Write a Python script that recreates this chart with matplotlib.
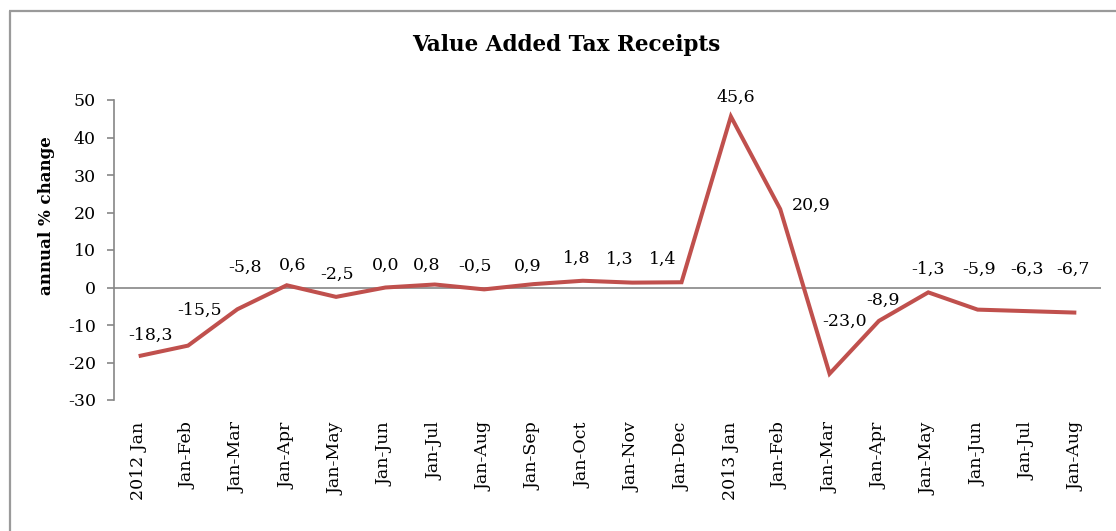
import matplotlib
matplotlib.use("Agg")
import matplotlib.pyplot as plt
from matplotlib.lines import Line2D

# Period labels (cumulative year-to-date)
periods = ["2012 Jan", "Jan-Feb", "Jan-Mar", "Jan-Apr", "Jan-May", "Jan-Jun",
           "Jan-Jul", "Jan-Aug", "Jan-Sep", "Jan-Oct", "Jan-Nov", "Jan-Dec",
           "2013 Jan", "Jan-Feb", "Jan-Mar", "Jan-Apr", "Jan-May", "Jan-Jun",
           "Jan-Jul", "Jan-Aug"]

# Annual % change of VAT receipts
vat_change = [-18.3, -15.5, -5.8, 0.6, -2.5, 0.0, 0.8, -0.5, 0.9, 1.8, 1.3, 1.4,
              45.6, 20.9, -23.0, -8.9, -1.3, -5.9, -6.3, -6.7]

y_ticks = [-30, -20, -10, 0, 10, 20, 30, 40, 50]

# Label placement relative to each point (pixels: right, up)
label_offsets = [(12, 21), (11.5, 35.6), (8, 42), (5.6, 20), (1, 23), (0, 22.5),
                 (-8, 19.5), (-9, 23.4), (-6, 18), (-6, 22), (-12, 23.6), (-19, 23),
                 (4.5, 19.5), (31, 4), (14.5, 52), (4, 21), (0, 23), (1, 40.6),
                 (0, 42), (-3, 43.6)]

FONT = "DejaVu Serif"
FS = 12.5
LINE_COLOR = "#C0504D"
AXIS_COLOR = "#868686"

fig = plt.figure(figsize=(11.16, 5.31), dpi=100)
fig.patch.set_facecolor("white")

# outer chart frame (left and top edges only)
fx, fy = 9.5 / 1116, 1 - 10.5 / 531
fig.add_artist(Line2D([fx, fx], [0, fy], transform=fig.transFigure,
                      color="#9a9a9a", linewidth=1.6, solid_capstyle="butt"))
fig.add_artist(Line2D([fx - 0.6 / 1116, 1.02], [fy, fy], transform=fig.transFigure,
                      color="#9a9a9a", linewidth=1.6, solid_capstyle="butt"))

ax = fig.add_axes([114 / 1116, 1 - 400 / 531, (1101 - 114) / 1116, 300 / 531])

x = list(range(len(vat_change)))
ax.plot(x, vat_change, color=LINE_COLOR, linewidth=2.9, solid_joinstyle="miter",
        solid_capstyle="butt", zorder=3)

ax.set_xlim(-0.5, len(vat_change) - 0.5)
ax.set_ylim(-30, 50)
ax.axhline(0, color=AXIS_COLOR, linewidth=1.2, zorder=2)

for sp in ["top", "right", "bottom"]:
    ax.spines[sp].set_visible(False)
ax.spines["left"].set_color(AXIS_COLOR)
ax.spines["left"].set_linewidth(1.2)

ax.set_yticks(y_ticks)
ax.set_yticklabels([str(v) for v in y_ticks], fontfamily=FONT, fontsize=FS)
ax.tick_params(axis="y", direction="out", length=5, width=1.2, color=AXIS_COLOR,
               pad=8)

ax.set_xticks(x)
ax.set_xticklabels(periods, rotation=90, fontfamily=FONT, fontsize=FS,
                   va="top", ha="center")
ax.tick_params(axis="x", length=0, pad=16)

ax.set_ylabel("annual % change", fontfamily=FONT, fontsize=12, fontweight="bold")
ax.yaxis.set_label_coords(-0.060, 0.613)

for xi, v, (dx, dy) in zip(x, vat_change, label_offsets):
    ax.annotate(f"{v:.1f}".replace(".", ","), (xi, v), xytext=(dx, dy),
                textcoords="offset pixels", ha="center", va="center",
                fontfamily=FONT, fontsize=FS, zorder=4)

fig.text(566 / 1116, 1 - 45 / 531, "Value Added Tax Receipts", ha="center",
         va="center", fontfamily=FONT, fontsize=15.5, fontweight="bold")

fig.savefig("out.png", dpi=100, facecolor="white")
